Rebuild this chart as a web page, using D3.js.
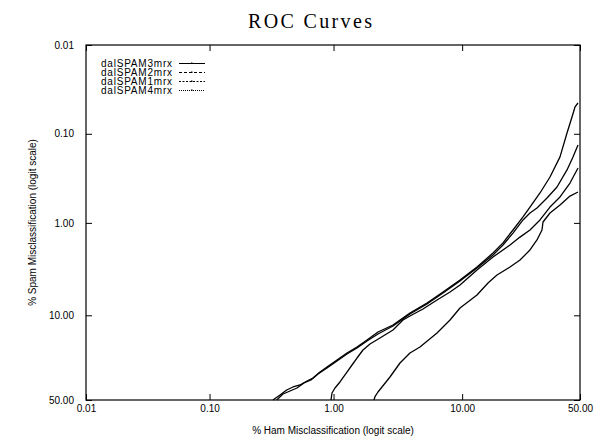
<!DOCTYPE html>
<html>
<head>
<meta charset="utf-8">
<script src="https://cdn.jsdelivr.net/npm/d3@7"></script>
<style>
  body { margin: 0; background: #fff; }
  svg { display: block; }
  .tick text { font-family: "Liberation Sans", Arial, sans-serif; font-size: 10px; fill: #000; }
</style>
</head>
<body>
<div id="chart"></div>
<script>
// tick values in percent, with their printed labels
var xTicks = [0.01, 0.1, 1, 10, 50];
var xTickLabels = ["0.01", "0.10", "1.00", "10.00", "50.00"];
var yTicks = [0.01, 0.1, 1, 10, 50];
var yTickLabels = ["0.01", "0.10", "1.00", "10.00", "50.00"];

var seriesNames = ["dalSPAM3mrx", "dalSPAM2mrx", "dalSPAM1mrx", "dalSPAM4mrx"];

// % ham misclassification / % spam misclassification
var ham3 = [0.325,0.371,0.42,0.472,0.537,0.612,0.684,0.779,0.886,1.066,1.281,1.54,1.85,2.261,2.969,4.03,5.454,7.216,9.645,12.78,16.49,19.22,22.28,25.68,28.24,32.17,36.37,40.79,43.97,46.28,47.67,49.07];
var spam3 = [50,46.76,43.55,41.64,40.39,37.92,36.11,32.60,29.82,26.16,22.80,20.18,17.41,14.63,12.50,9.47,7.47,5.72,4.26,3.07,2.16,1.67,1.20,0.859,0.665,0.463,0.306,0.182,0.098,0.0647,0.0499,0.045];

var ham2 = [0.349,0.392,0.447,0.508,0.579,0.659,0.750,0.886,1.066,1.281,1.54,1.85,2.261,2.969,4.03,5.454,7.216,9.645,12.78,16.49,19.22,22.28,25.68,28.24,30.96,35.09,39.44,43.97,46.74,49.07];
var spam2 = [50,46.12,44.19,42.28,39.15,37.31,33.74,30.36,26.66,23.27,20.60,17.79,15.28,12.79,9.70,7.65,5.87,4.36,3.15,2.27,1.76,1.30,0.928,0.776,0.681,0.527,0.397,0.255,0.182,0.134];

var ham1 = [0.954,0.972,1.027,1.126,1.281,1.405,1.54,1.719,1.954,2.345,2.969,3.556,4.03,5.082,6.502,8.14,9.645,12.78,16.49,21.33,24.63,28.24,32.17,36.37,40.79,45.35,49.07];
var spam1 = [50,45.47,42.28,38.53,32.60,28.74,25.17,21.46,18.96,16.68,13.99,11.15,10.16,8.62,6.95,5.72,4.82,3.32,2.39,1.76,1.44,1.20,0.928,0.665,0.513,0.358,0.243];

var ham4 = [2.10,2.141,2.261,2.432,2.812,3.369,4.03,4.819,6.502,8.14,9.645,12.78,15.25,17.54,21.33,24.63,28.24,30.96,32.99,33.41,36.37,40.79,45.35,49.07];
var spam4 = [50,47.86,44.83,41.64,35.51,27.69,22.80,20.18,14.95,11.15,8.42,6.16,4.59,3.76,3.07,2.58,2.00,1.55,1.20,0.977,0.776,0.631,0.501,0.451];

var hamList = [ham3, ham2, ham1, ham4];
var spamList = [spam3, spam2, spam1, spam4];
var dashes = [null, "3,2", "2,1.5", "1,1"];

var width = 612, height = 437;
var plotL = 86, plotR = 580, plotT = 45, plotB = 400;

function logit(pct) {
  var p = pct / 100;
  return Math.log(p / (1 - p));
}

var svg = d3.select("#chart").append("svg")
    .attr("width", width)
    .attr("height", height);

var x = d3.scaleLinear().domain([logit(0.01), logit(50)]).range([plotL, plotR]);
var y = d3.scaleLinear().domain([logit(0.01), logit(50)]).range([plotT, plotB]);

// axes, ticks pointing inward
svg.append("g")
    .attr("transform", "translate(0," + plotB + ")")
    .call(d3.axisBottom(x).tickValues(xTicks.map(logit))
      .tickFormat(function(d, i) { return xTickLabels[i]; })
      .tickSizeInner(-6).tickSizeOuter(0).tickPadding(5));

svg.append("g")
    .attr("transform", "translate(0," + plotT + ")")
    .call(d3.axisTop(x).tickValues(xTicks.map(logit))
      .tickFormat("").tickSizeInner(-6).tickSizeOuter(0));

svg.append("g")
    .attr("transform", "translate(" + plotL + ",0)")
    .call(d3.axisLeft(y).tickValues(yTicks.map(logit))
      .tickFormat(function(d, i) { return yTickLabels[i]; })
      .tickSizeInner(-6).tickSizeOuter(0).tickPadding(12));

svg.append("g")
    .attr("transform", "translate(" + plotR + ",0)")
    .call(d3.axisRight(y).tickValues(yTicks.map(logit))
      .tickFormat("").tickSizeInner(-6).tickSizeOuter(0));

svg.selectAll(".domain").remove();
svg.selectAll(".tick line").attr("stroke", "#000");

svg.append("rect")
    .attr("x", plotL).attr("y", plotT)
    .attr("width", plotR - plotL).attr("height", plotB - plotT)
    .attr("fill", "none")
    .attr("stroke", "#000")
    .attr("stroke-width", 1.2);

// curves
var line = d3.line()
    .x(function(d) { return x(logit(d[0])); })
    .y(function(d) { return y(logit(d[1])); });

var curves = svg.append("g").attr("class", "g-curves");
hamList.forEach(function(h, k) {
  var pts = h.map(function(v, i) { return [v, spamList[k][i]]; });
  curves.append("path")
      .attr("d", line(pts))
      .attr("fill", "none")
      .attr("stroke", "#000")
      .attr("stroke-width", 1.3)
      .attr("stroke-linejoin", "round");
});

// legend
var legend = svg.append("g").attr("class", "g-legend");
seriesNames.forEach(function(name, i) {
  var by = 67 + i * 9;
  legend.append("text")
      .attr("x", 101).attr("y", by)
      .attr("font-family", "Liberation Sans, Arial, sans-serif")
      .attr("font-size", "10px")
      .attr("textLength", 71)
      .text(name);
  legend.append("line")
      .attr("x1", 179).attr("x2", 205)
      .attr("y1", by - 3.5).attr("y2", by - 3.5)
      .attr("stroke", "#000")
      .attr("stroke-width", 1)
      .attr("stroke-dasharray", dashes[i]);
  legend.append("rect")
      .attr("x", 191).attr("y", by - 4.5)
      .attr("width", 1.5).attr("height", 1.5)
      .attr("fill", "#000");
});

// titles
svg.append("text")
    .attr("x", 310).attr("y", 28)
    .attr("text-anchor", "middle")
    .attr("font-family", "Liberation Serif, Times New Roman, serif")
    .attr("font-size", "20px")
    .attr("textLength", 124)
    .text("ROC Curves");

svg.append("text")
    .attr("x", (plotL + plotR) / 2).attr("y", 434)
    .attr("text-anchor", "middle")
    .attr("font-family", "Liberation Sans, Arial, sans-serif")
    .attr("font-size", "10px")
    .text("% Ham Misclassification (logit scale)");

svg.append("text")
    .attr("transform", "translate(36," + ((plotT + plotB) / 2) + ") rotate(-90)")
    .attr("text-anchor", "middle")
    .attr("font-family", "Liberation Sans, Arial, sans-serif")
    .attr("font-size", "10px")
    .text("% Spam Misclassification (logit scale)");
</script>
</body>
</html>
